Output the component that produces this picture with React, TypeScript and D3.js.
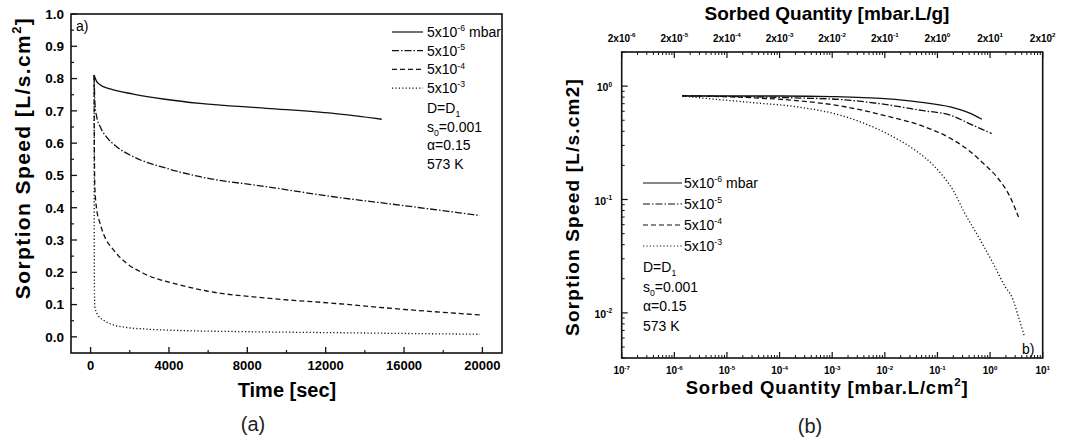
import React, { useRef, useEffect } from 'react';
import * as d3 from 'd3';

const FONT = '"Liberation Sans", Arial, Helvetica, sans-serif';

// ---- panel (a): sorption speed against time ----
const timeTicks = [0, 4000, 8000, 12000, 16000, 20000];
const timeMinor = [2000, 6000, 10000, 14000, 18000];
const speedTicks = [0, 0.1, 0.2, 0.3, 0.4, 0.5, 0.6, 0.7, 0.8, 0.9, 1.0];
const speedMinor = [0.05, 0.15, 0.25, 0.35, 0.45, 0.55, 0.65, 0.75, 0.85, 0.95];

const time6 = [[180, 0.81], [300, 0.792], [480, 0.781], [1000, 0.768], [2180, 0.752], [3800, 0.736], [5585, 0.723], [8990, 0.708], [12390, 0.692], [14860, 0.674]];
const time5 = [[180, 0.81], [200, 0.76], [230, 0.715], [300, 0.685], [480, 0.652], [800, 0.62], [1330, 0.589], [2180, 0.558], [3885, 0.522], [5585, 0.496], [8990, 0.465], [12390, 0.434], [15790, 0.408], [19870, 0.376]];
const time4 = [[180, 0.81], [185, 0.7], [195, 0.56], [220, 0.46], [300, 0.4], [480, 0.352], [650, 0.32], [1160, 0.27], [1840, 0.228], [2690, 0.197], [4560, 0.161], [5930, 0.142], [8990, 0.12], [12390, 0.104], [15790, 0.086], [19870, 0.068]];
const time3 = [[180, 0.81], [183, 0.5], [188, 0.25], [200, 0.13], [225, 0.09], [400, 0.065], [650, 0.052], [1160, 0.037], [1840, 0.029], [2860, 0.024], [3885, 0.021], [8000, 0.016], [12390, 0.013], [19870, 0.008]];

// ---- panel (b): sorption speed against sorbed quantity ----
const qDecades = [-7, -6, -5, -4, -3, -2, -1, 0, 1];
const qTopExps = ['-6', '-5', '-4', '-3', '-2', '-1', '0', '1', '2'];
const sDecades = [0, -1, -2];

const q6 = [[1.4e-6, 0.82], [1e-4, 0.818], [1e-3, 0.808], [1e-2, 0.775], [5e-2, 0.72], [0.175, 0.656], [0.4, 0.58], [0.7, 0.51]];
const q5 = [[1.4e-6, 0.82], [3e-5, 0.805], [2.5e-4, 0.785], [1.4e-3, 0.763], [1e-2, 0.69], [5e-2, 0.61], [0.175, 0.554], [0.48, 0.45], [1.08, 0.382]];
const q4 = [[1.4e-6, 0.82], [3e-5, 0.79], [2.5e-4, 0.74], [1.4e-3, 0.67], [1e-2, 0.55], [0.047, 0.452], [0.175, 0.347], [0.39, 0.272], [0.74, 0.209], [1.35, 0.158], [2.41, 0.105], [3.47, 0.07]];
const q3 = [[1.4e-6, 0.82], [3e-6, 0.79], [2.8e-5, 0.718], [2.5e-4, 0.65], [1.4e-3, 0.555], [1.26e-2, 0.369], [0.0377, 0.272], [0.084, 0.2], [0.13, 0.159], [0.2, 0.12], [0.31, 0.08], [0.65, 0.044], [1.16, 0.027], [1.94, 0.017], [2.6, 0.0138], [3.47, 0.0092], [4.45, 0.0063]];

const pressureExps = ['-6', '-5', '-4', '-3'];
const dashes = [null, '7,2,1.5,2', '5,3', '1.2,2.2'];
const notes = [['D=D', '1'], ['s', '0', '=0.001'], ['α=0.15'], ['573 K']];

type Part = [string, string?];

// text with super/subscript pieces: undefined normal, 'sup', 'sub'
function rich(g: any, parts: Part[], size: number) {
  const t = g.append('text').attr('font-family', FONT).attr('font-size', size);
  let shift = 0;
  parts.forEach(([s, kind]) => {
    const want = kind === 'sup' ? -size * 0.42 : kind === 'sub' ? size * 0.3 : 0;
    t.append('tspan')
      .attr('dy', want - shift)
      .attr('font-size', kind ? size * 0.62 : size)
      .text(s);
    shift = want;
  });
  return t;
}

export default function App() {
  const ref = useRef<SVGSVGElement>(null);
  useEffect(() => {
    const svg = d3.select(ref.current);
    svg.selectAll('*').remove();
    svg.append('rect').attr('width', 1089).attr('height', 440).attr('fill', '#fff');

    // ================= panel (a) =================
    const xa = d3.scaleLinear().domain([-1000, 21000]).range([71, 502]);
    const ya = d3.scaleLinear().domain([-0.05, 1.0]).range([353, 14]);
    const ga = svg.append('g');

    const lineA = d3.line<number[]>().x(d => xa(d[0])).y(d => ya(d[1])).curve(d3.curveMonotoneX);
    [time6, time5, time4, time3].forEach((s, i) => {
      ga.append('path').attr('d', lineA(s)).attr('fill', 'none').attr('stroke', '#111')
        .attr('stroke-width', 1.3).attr('stroke-dasharray', dashes[i]);
    });

    ga.append('rect').attr('x', 71).attr('y', 14).attr('width', 431).attr('height', 339)
      .attr('fill', 'none').attr('stroke', '#111').attr('stroke-width', 1.6);

    speedTicks.forEach(v => {
      ga.append('line').attr('x1', 71).attr('x2', 77).attr('y1', ya(v)).attr('y2', ya(v)).attr('stroke', '#111').attr('stroke-width', 1.3);
      ga.append('text').attr('x', 64).attr('y', ya(v)).attr('dy', '0.36em').attr('text-anchor', 'end')
        .attr('font-family', FONT).attr('font-weight', 'bold').attr('font-size', 13.5).text(v.toFixed(1));
    });
    speedMinor.forEach(v => {
      ga.append('line').attr('x1', 71).attr('x2', 74).attr('y1', ya(v)).attr('y2', ya(v)).attr('stroke', '#111').attr('stroke-width', 1.2);
    });
    timeTicks.forEach(t => {
      ga.append('line').attr('x1', xa(t)).attr('x2', xa(t)).attr('y1', 353).attr('y2', 347).attr('stroke', '#111').attr('stroke-width', 1.3);
      ga.append('text').attr('x', xa(t)).attr('y', 370).attr('text-anchor', 'middle')
        .attr('font-family', FONT).attr('font-weight', 'bold').attr('font-size', 13).text(String(t));
    });
    timeMinor.forEach(t => {
      ga.append('line').attr('x1', xa(t)).attr('x2', xa(t)).attr('y1', 353).attr('y2', 350).attr('stroke', '#111').attr('stroke-width', 1.2);
    });

    ga.append('text').attr('x', 287).attr('y', 397).attr('text-anchor', 'middle').attr('font-family', FONT)
      .attr('font-weight', 'bold').attr('font-size', 20).text('Time [sec]');
    rich(ga, [['Sorption Speed [L/s.cm'], ['2', 'sup'], [']']], 21)
      .attr('font-weight', 'bold').attr('text-anchor', 'middle').attr('letter-spacing', 1.4)
      .attr('transform', 'translate(30,158) rotate(-90)');

    ga.append('text').attr('x', 76).attr('y', 31).attr('font-family', FONT).attr('font-size', 14).text('a)');

    pressureExps.forEach((e, i) => {
      const y = 32 + i * 18.7;
      ga.append('line').attr('x1', 392).attr('x2', 423).attr('y1', y).attr('y2', y)
        .attr('stroke', '#111').attr('stroke-width', 1.2).attr('stroke-dasharray', dashes[i]);
      rich(ga, i === 0 ? [['5x10'], [e, 'sup'], [' mbar']] : [['5x10'], [e, 'sup']], 14)
        .attr('x', 427).attr('y', y + 5);
    });
    notes.forEach((n, i) => {
      const parts: Part[] = n.length === 1 ? [[n[0]]] : n.length === 2 ? [[n[0]], [n[1], 'sub']] : [[n[0]], [n[1], 'sub'], [n[2]]];
      rich(ga, parts, 14).attr('x', 427).attr('y', 113 + i * 18.7);
    });

    svg.append('text').attr('x', 253).attr('y', 431).attr('text-anchor', 'middle').attr('font-family', FONT)
      .attr('font-size', 20).attr('fill', '#222').text('(a)');

    // ================= panel (b) =================
    const L = 621.7, R = 1042.7, T = 52, B = 358;
    const xb = d3.scaleLog().domain([1e-7, 1e1]).range([L, R]);
    const yb = d3.scaleLog().domain([0.004, 2]).range([B, T]);
    const gb = svg.append('g');

    const lineB = d3.line<number[]>().x(d => xb(d[0])).y(d => yb(d[1])).curve(d3.curveMonotoneX);
    [q6, q5, q4, q3].forEach((s, i) => {
      gb.append('path').attr('d', lineB(s)).attr('fill', 'none').attr('stroke', '#111')
        .attr('stroke-width', 1.3).attr('stroke-dasharray', dashes[i]);
    });

    gb.append('rect').attr('x', L).attr('y', T).attr('width', R - L).attr('height', B - T)
      .attr('fill', 'none').attr('stroke', '#111').attr('stroke-width', 1.6);

    // x ticks, bottom and top share positions
    qDecades.forEach((e, i) => {
      const x = xb(10 ** e);
      gb.append('line').attr('x1', x).attr('x2', x).attr('y1', B).attr('y2', B - 6).attr('stroke', '#111').attr('stroke-width', 1.2);
      gb.append('line').attr('x1', x).attr('x2', x).attr('y1', T).attr('y2', T + 6).attr('stroke', '#111').attr('stroke-width', 1.2);
      rich(gb, [['10'], [String(e), 'sup']], 10).attr('font-weight', 'bold').attr('text-anchor', 'middle')
        .attr('x', x).attr('y', 374);
      rich(gb, [['2x10'], [qTopExps[i], 'sup']], 10).attr('font-weight', 'bold').attr('text-anchor', 'middle')
        .attr('x', x).attr('y', 41.5);
      if (e < 1) {
        for (let k = 2; k <= 9; k++) {
          const xm = xb(k * 10 ** e);
          gb.append('line').attr('x1', xm).attr('x2', xm).attr('y1', B).attr('y2', B - 3).attr('stroke', '#111').attr('stroke-width', 1);
          gb.append('line').attr('x1', xm).attr('x2', xm).attr('y1', T).attr('y2', T + 3).attr('stroke', '#111').attr('stroke-width', 1);
        }
      }
    });

    sDecades.forEach(e => {
      const y = yb(10 ** e);
      gb.append('line').attr('x1', L).attr('x2', L + 6).attr('y1', y).attr('y2', y).attr('stroke', '#111').attr('stroke-width', 1.2);
      rich(gb, [['10'], [String(e), 'sup']], 10.5).attr('font-weight', 'bold').attr('text-anchor', 'end')
        .attr('x', 612).attr('y', y + 5);
    });
    [-3, -2, -1, 0].forEach(e => {
      for (let k = 2; k <= 9; k++) {
        const v = k * 10 ** e;
        if (v < 0.004 || v > 2) continue;
        const y = yb(v);
        gb.append('line').attr('x1', L).attr('x2', L + 3).attr('y1', y).attr('y2', y).attr('stroke', '#111').attr('stroke-width', 1);
      }
    });

    gb.append('text').attr('x', 827).attr('y', 20).attr('text-anchor', 'middle').attr('font-family', FONT)
      .attr('font-weight', 'bold').attr('font-size', 19).text('Sorbed Quantity [mbar.L/g]');
    rich(gb, [['Sorbed Quantity [mbar.L/cm'], ['2', 'sup'], [']']], 18.5)
      .attr('font-weight', 'bold').attr('text-anchor', 'middle').attr('x', 827).attr('y', 394)
      .attr('letter-spacing', 0.8);
    gb.append('text').attr('font-family', FONT).attr('font-weight', 'bold').attr('font-size', 19)
      .attr('text-anchor', 'middle').attr('transform', 'translate(579,207) rotate(-90)')
      .attr('letter-spacing', 1.2).text('Sorption Speed [L/s.cm2]');

    gb.append('text').attr('x', 1022).attr('y', 354).attr('font-family', FONT).attr('font-size', 14).text('b)');

    pressureExps.forEach((e, i) => {
      const y = 183 + i * 21;
      gb.append('line').attr('x1', 643).attr('x2', 682).attr('y1', y).attr('y2', y)
        .attr('stroke', '#111').attr('stroke-width', 1.2).attr('stroke-dasharray', dashes[i]);
      rich(gb, i === 0 ? [['5x10'], [e, 'sup'], [' mbar']] : [['5x10'], [e, 'sup']], 14)
        .attr('x', 684).attr('y', y + 5);
    });
    notes.forEach((n, i) => {
      const parts: Part[] = n.length === 1 ? [[n[0]]] : n.length === 2 ? [[n[0]], [n[1], 'sub']] : [[n[0]], [n[1], 'sub'], [n[2]]];
      rich(gb, parts, 14).attr('x', 643).attr('y', 272 + i * 19.5);
    });

    svg.append('text').attr('x', 810).attr('y', 433).attr('text-anchor', 'middle').attr('font-family', FONT)
      .attr('font-size', 20).attr('fill', '#222').text('(b)');
  }, []);
  return <svg ref={ref} width={1089} height={440} style={{ position: 'absolute', left: 0, top: 0 }} />;
}
